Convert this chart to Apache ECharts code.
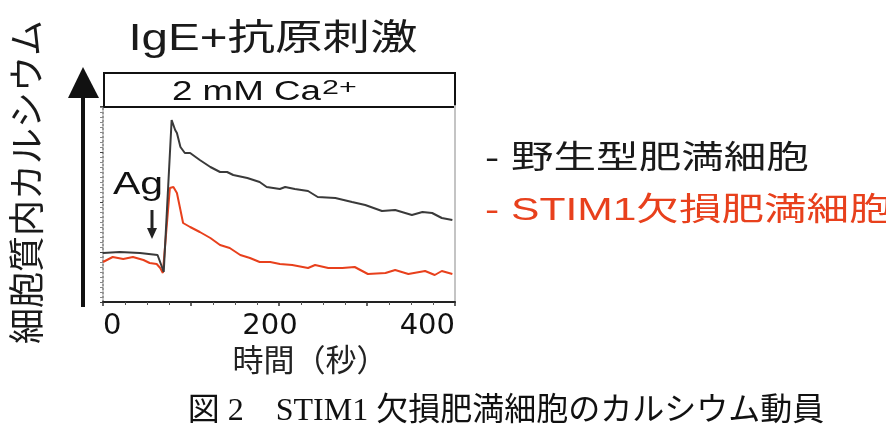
<!DOCTYPE html>
<html>
<head>
<meta charset="utf-8">
<script src="https://cdn.jsdelivr.net/npm/echarts@6/dist/echarts.min.js"></script>
<style>
  html, body { margin: 0; padding: 0; background: #fff; }
  #chart { width: 886px; height: 441px; }
</style>
</head>
<body>
<div id="chart"></div>
<script>
// 時間（秒）と細胞質内カルシウム（相対値）
const wtTime = [0, 19, 42, 62, 67, 69, 78, 82, 84, 88, 93, 99, 110, 122, 133, 141, 148, 164, 178, 186,
  201, 207, 218, 233, 244, 264, 283, 298, 317, 332, 351, 363, 374, 385, 397];
const wtCa = [0.98, 1.00, 0.98, 0.94, 0.70, 0.60, 3.64, 3.44, 3.38, 3.10, 2.98, 2.98, 2.84, 2.70, 2.60, 2.60, 2.54, 2.48, 2.40, 2.30,
  2.26, 2.30, 2.26, 2.22, 2.10, 2.08, 2.00, 1.94, 1.82, 1.84, 1.74, 1.80, 1.78, 1.68, 1.64];

const koTime = [0, 11, 23, 34, 46, 53, 61, 65, 68, 76, 80, 84, 88, 91, 99, 110, 122, 133, 144, 156,
  167, 178, 190, 201, 215, 233, 241, 256, 272, 286, 301, 321, 332, 347, 366, 377, 385, 397];
const koCa = [0.80, 0.90, 0.86, 0.90, 0.84, 0.78, 0.76, 0.68, 0.58, 2.28, 2.30, 2.18, 1.84, 1.58, 1.50, 1.40, 1.28, 1.14, 1.08, 0.94,
  0.88, 0.80, 0.80, 0.76, 0.74, 0.68, 0.74, 0.68, 0.68, 0.70, 0.56, 0.58, 0.64, 0.56, 0.62, 0.54, 0.62, 0.56];

const xTicks = [0, 200, 400];
const seriesNames = ['野生型肥満細胞', 'STIM1欠損肥満細胞'];

const cjk = "'Noto Sans CJK JP', sans-serif";
const mixed = "'Liberation Sans', 'Noto Sans CJK JP', sans-serif";
const red = '#e8401c';

function pairs(ts, vs) {
  return ts.map(function (t, i) { return [t, vs[i]]; });
}

let chart = echarts.init(document.getElementById('chart'));

let option = {
  animation: false,
  backgroundColor: '#fff',
  grid: { left: 103, right: 431, top: 106, bottom: 139 },
  xAxis: {
    type: 'value',
    min: 0,
    max: 400,
    interval: 100,
    splitLine: { show: false },
    axisLine: { lineStyle: { color: '#222', width: 2 } },
    axisTick: { length: 4, lineStyle: { color: '#333', width: 1.5 } },
    minorTick: { show: true, splitNumber: 4, length: 3, lineStyle: { color: '#555' } },
    axisLabel: {
      margin: 10,
      color: '#111',
      fontSize: 29,
      fontFamily: 'DejaVu Sans',
      alignMinLabel: 'left',
      alignMaxLabel: 'right',
      formatter: function (v) {
        if (xTicks.indexOf(v) < 0) return '';
        return v === 200 ? '{m|' + v + '}' : String(v);
      },
      rich: { m: { fontSize: 29, fontFamily: 'DejaVu Sans', color: '#111', padding: [0, 18, 0, 0] } }
    },
    name: '時間（秒）',
    nameLocation: 'middle',
    nameGap: 42,
    nameTextStyle: { fontSize: 31, fontFamily: cjk, color: '#222', padding: [0, 0, 0, 62] }
  },
  yAxis: [{
    type: 'value',
    min: 0,
    max: 3.92,
    interval: 1,
    splitLine: { show: false },
    axisLine: { show: true, lineStyle: { color: '#777', width: 1.5, type: [2, 2] } },
    axisTick: { show: true, length: 3, lineStyle: { color: '#444' } },
    minorTick: { show: true, splitNumber: 10, length: 3, lineStyle: { color: '#888' } },
    axisLabel: { show: false }
  }, {
    type: 'value',
    position: 'right',
    min: 0,
    max: 3.92,
    splitLine: { show: false },
    axisLine: { show: true, lineStyle: { color: '#c4c4c4', width: 2 } },
    axisTick: { show: false },
    axisLabel: { show: false }
  }],
  series: [{
    name: seriesNames[1],
    type: 'line',
    showSymbol: false,
    data: pairs(koTime, koCa),
    lineStyle: { color: red, width: 2 },
    itemStyle: { color: red }
  }, {
    name: seriesNames[0],
    type: 'line',
    showSymbol: false,
    data: pairs(wtTime, wtCa),
    lineStyle: { color: '#3a3a3a', width: 2 },
    itemStyle: { color: '#3a3a3a' }
  }],
  graphic: [
    // タイトル
    { type: 'text', x: 273, y: 40, scaleX: 1.32,
      style: { text: 'IgE+抗原刺激', fontSize: 36, fontFamily: mixed, fill: '#1a1a1a', textAlign: 'center', verticalAlign: 'middle' } },
    // 2 mM Ca2+ の枠
    { type: 'rect', shape: { x: 104, y: 73, width: 351, height: 34 },
      style: { fill: '#fff', stroke: '#111', lineWidth: 2 } },
    { type: 'text', x: 172, y: 93, scaleX: 1.36,
      style: { text: '2 mM Ca', fontSize: 27, fontFamily: 'Liberation Sans', fill: '#111', textAlign: 'left', verticalAlign: 'middle' } },
    { type: 'text', x: 322, y: 88, scaleX: 1.45,
      style: { text: '2+', fontSize: 21, fontFamily: 'Liberation Sans', fill: '#111', textAlign: 'left', verticalAlign: 'middle' } },
    // 縦軸の矢印と軸名
    { type: 'line', shape: { x1: 83, y1: 307, x2: 83, y2: 95 }, style: { stroke: '#111', lineWidth: 4 } },
    { type: 'polygon', shape: { points: [[83, 67], [68, 98], [99, 98]] }, style: { fill: '#111' } },
    { type: 'text', x: 26, y: 182, rotation: Math.PI / 2,
      style: { text: '細胞質内カルシウム', fontSize: 36, fontFamily: cjk, fill: '#1a1a1a', textAlign: 'center', verticalAlign: 'middle' } },
    // Ag と矢印
    { type: 'text', x: 138, y: 185, scaleX: 1.28,
      style: { text: 'Ag', fontSize: 32, fontFamily: 'Liberation Sans', fill: '#111', textAlign: 'center', verticalAlign: 'middle' } },
    { type: 'line', shape: { x1: 152, y1: 210, x2: 152, y2: 230 }, style: { stroke: '#222', lineWidth: 3 } },
    { type: 'polygon', shape: { points: [[152, 239], [147, 228], [157, 228]] }, style: { fill: '#222' } },
    // 凡例
    { type: 'text', x: 485, y: 159, scaleX: 1.33,
      style: { text: '- ' + seriesNames[0], fontSize: 32, fontFamily: mixed, fill: '#1a1a1a', textAlign: 'left', verticalAlign: 'middle' } },
    { type: 'text', x: 485, y: 211, scaleX: 1.33,
      style: { text: '- ' + seriesNames[1], fontSize: 32, fontFamily: mixed, fill: red, textAlign: 'left', verticalAlign: 'middle' } },
    // 図の説明
    { type: 'text', x: 506, y: 412,
      style: { text: '図 2　STIM1 欠損肥満細胞のカルシウム動員', fontSize: 32, fontFamily: "'Liberation Serif', 'Noto Sans CJK JP', serif", fill: '#111', textAlign: 'center', verticalAlign: 'middle' } }
  ]
};

chart.setOption(option);
</script>
</body>
</html>
